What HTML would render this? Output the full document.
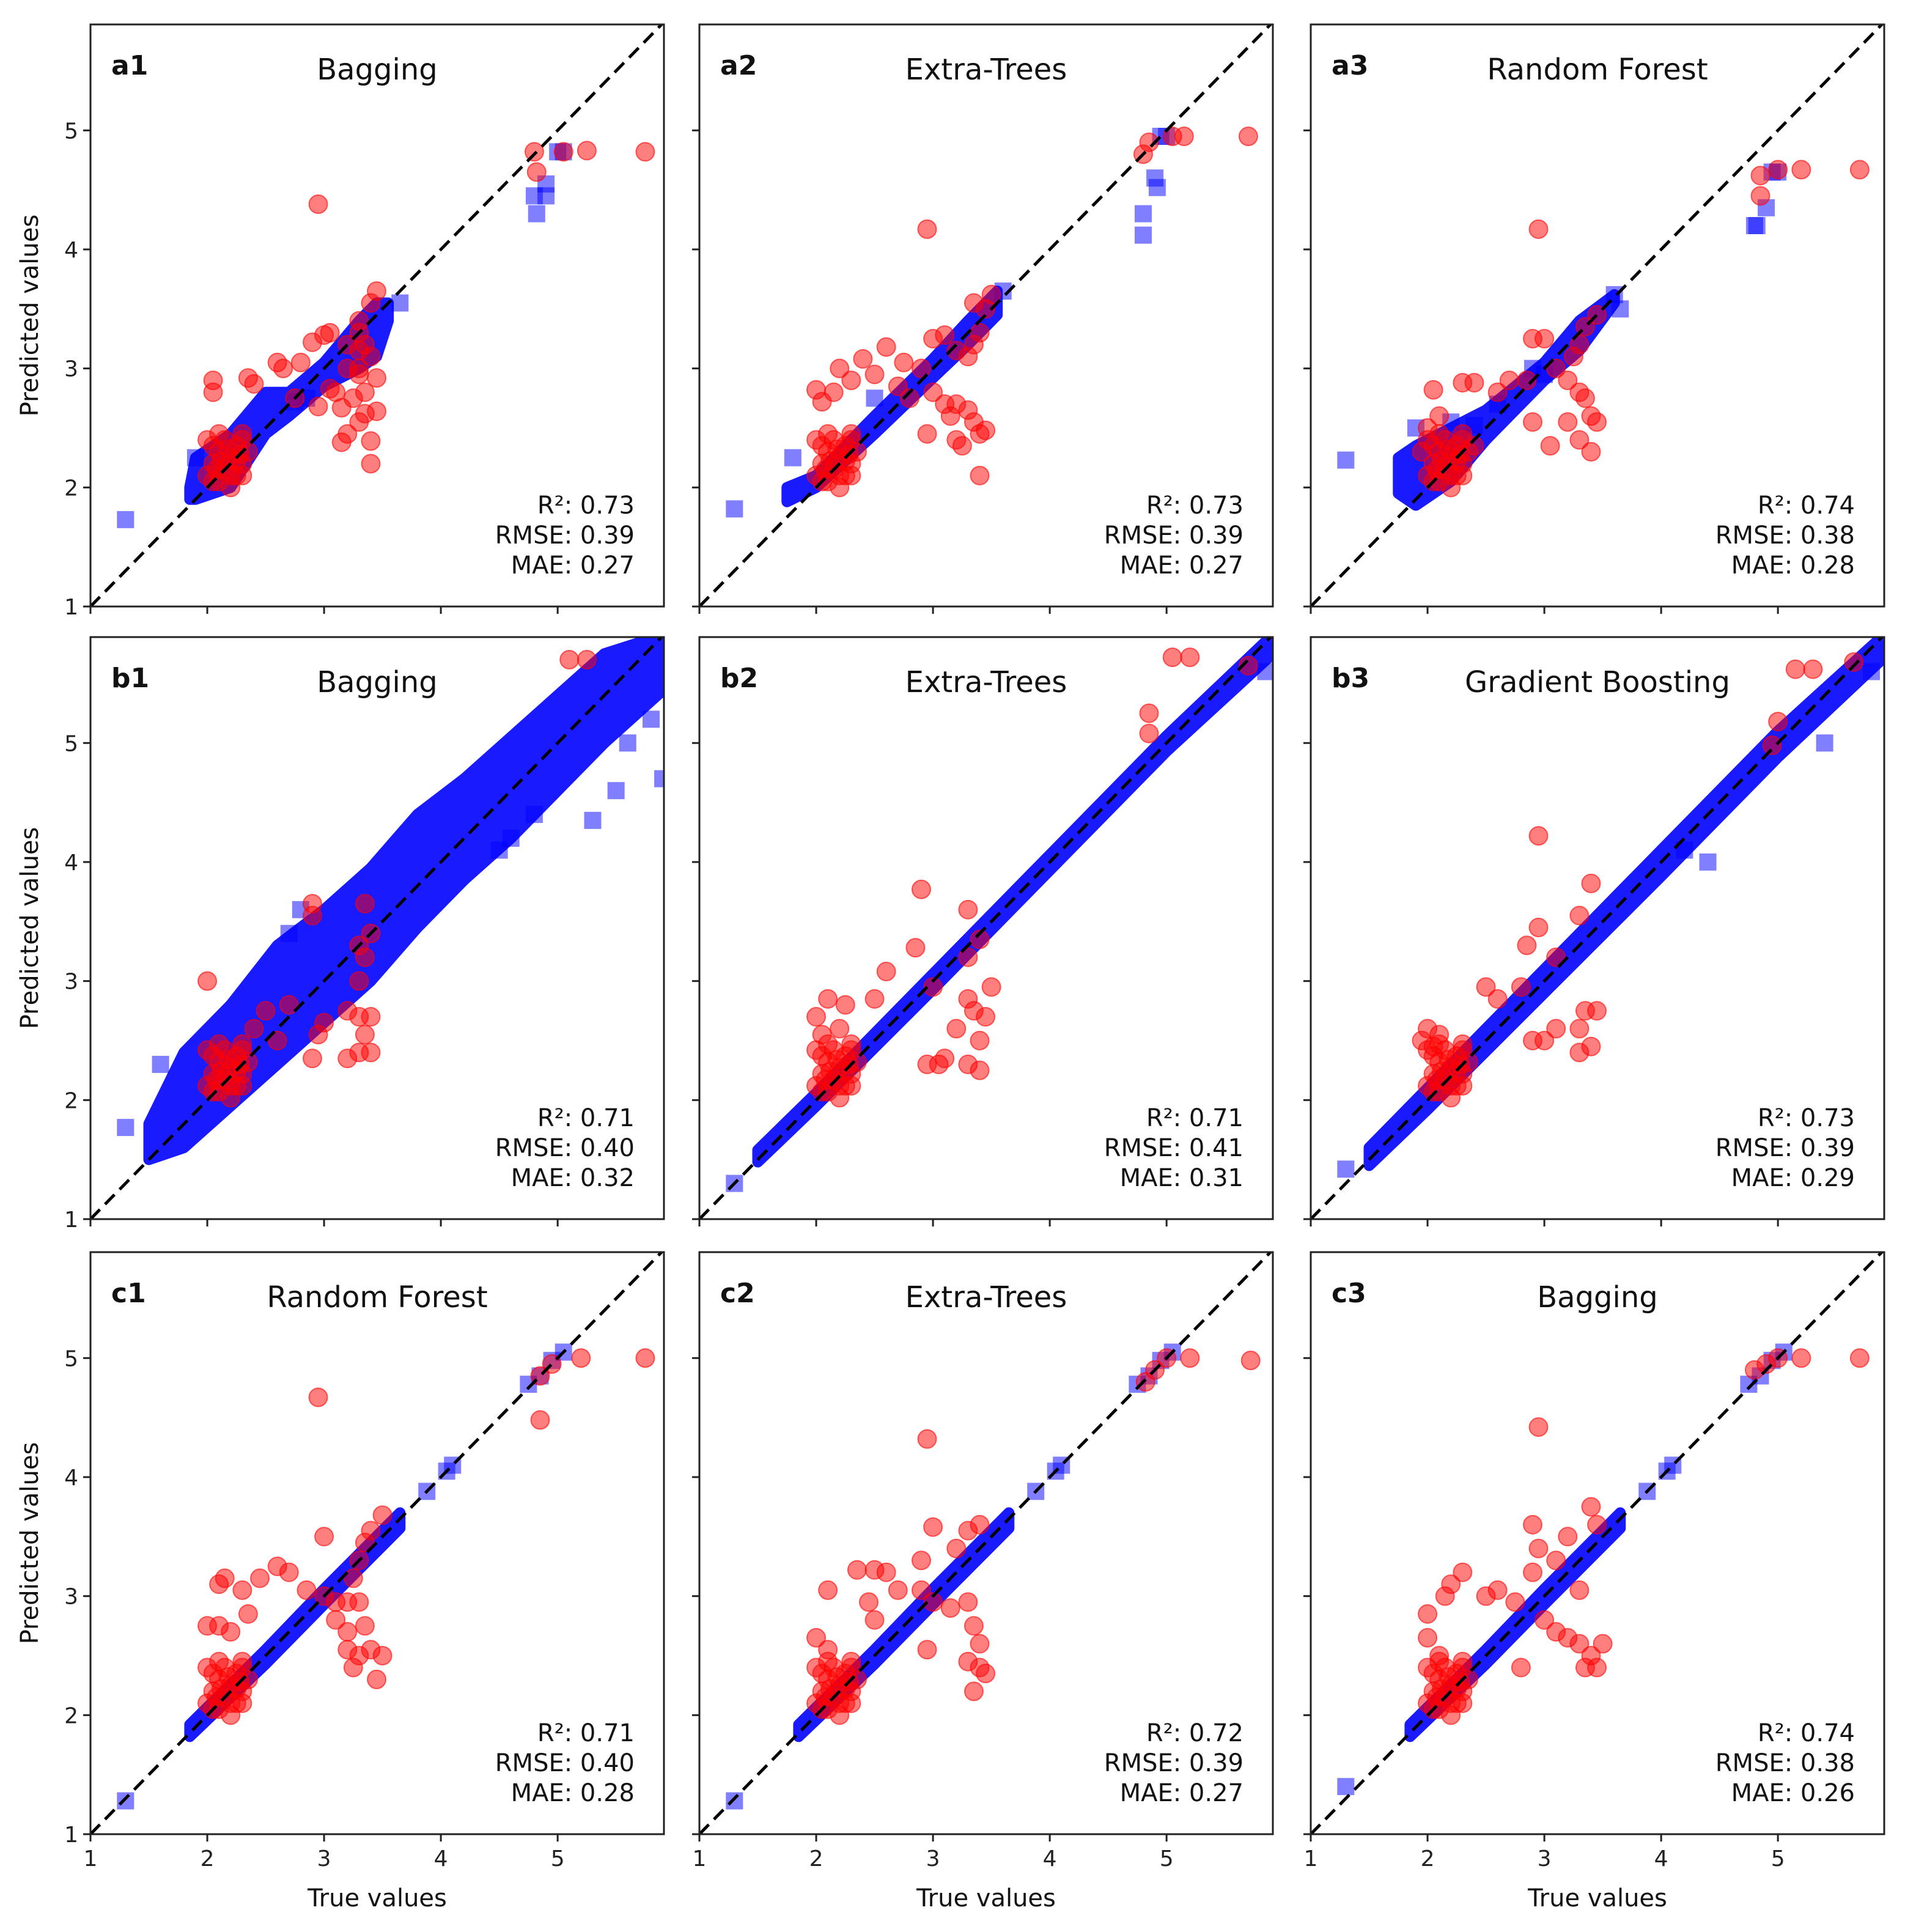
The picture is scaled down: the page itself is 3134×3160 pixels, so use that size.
<!DOCTYPE html>
<html><head><meta charset="utf-8"><style>
html,body{margin:0;padding:0;background:#fff}
svg{display:block;font-family:"DejaVu Sans","Liberation Sans",sans-serif}
</style></head><body>
<svg id="fig" width="3134" height="3160" viewBox="0 0 3134 3160" xmlns="http://www.w3.org/2000/svg"></svg>
<script>
// ---- data ----
const ticks=[1,2,3,4,5];
const redCluster=[[2.0,2.1],[2.05,2.2],[2.1,2.3],[2.15,2.15],[2.2,2.25],[2.25,2.35],[2.3,2.4],[2.1,2.05],[2.2,2.1],[2.3,2.2],[2.0,2.4],[2.05,2.35],[2.3,2.45],[2.25,2.1],[2.15,2.4],[2.35,2.3],[2.3,2.1],[2.1,2.45],[2.2,2.0],[2.05,2.05],[2.12,2.22],[2.18,2.32],[2.25,2.22],[2.08,2.15],[2.28,2.28]];
const panelTitles=["Bagging","Extra-Trees","Random Forest","Bagging","Extra-Trees","Gradient Boosting","Random Forest","Extra-Trees","Bagging"];
const panelLabels=["a1","a2","a3","b1","b2","b3","c1","c2","c3"];
const statR2=["0.73","0.73","0.74","0.71","0.71","0.73","0.71","0.72","0.74"];
const statRMSE=["0.39","0.39","0.38","0.40","0.41","0.39","0.40","0.39","0.38"];
const statMAE=["0.27","0.27","0.28","0.32","0.31","0.29","0.28","0.27","0.26"];
const bandX=[
[1.85,1.9,2.2,2.5,2.7,3.0,3.3,3.45,3.55],
[1.75,2.0,2.5,3.0,3.3,3.55],
[1.75,1.9,2.2,2.5,3.0,3.3,3.6],
[1.5,1.8,2.2,2.6,3.0,3.4,3.8,4.2,4.6,5.0,5.4,5.91],
[1.5,2.0,3.0,4.0,5.0,5.91],
[1.5,2.0,3.0,4.0,5.0,5.91],
[1.85,2.5,3.0,3.65],
[1.85,2.5,3.0,3.65],
[1.85,2.5,3.0,3.65]];
const bandLo=[
[1.9,1.9,2.0,2.45,2.6,2.85,3.0,3.1,3.4],
[1.88,2.0,2.45,2.92,3.2,3.45],
[1.95,1.85,2.05,2.4,2.9,3.15,3.55],
[1.5,1.6,1.95,2.3,2.65,3.0,3.45,3.85,4.2,4.6,5.0,5.45],
[1.48,1.95,2.93,3.93,4.93,5.75],
[1.45,1.92,2.9,3.88,4.88,5.72],
[1.82,2.43,2.93,3.57],
[1.82,2.43,2.93,3.57],
[1.82,2.43,2.93,3.57]];
const bandHi=[
[2.0,2.25,2.45,2.8,2.8,3.05,3.4,3.55,3.55],
[2.0,2.1,2.6,3.08,3.4,3.65],
[2.25,2.35,2.5,2.65,3.05,3.4,3.62],
[1.8,2.4,2.8,3.3,3.6,3.95,4.4,4.7,5.05,5.4,5.75,5.91],
[1.58,2.06,3.06,4.06,5.06,5.91],
[1.6,2.1,3.1,4.1,5.1,5.91],
[1.92,2.55,3.06,3.7],
[1.92,2.55,3.06,3.7],
[1.92,2.55,3.06,3.7]];
const blueOut=[
[[1.3,1.73],[1.9,2.25],[3.65,3.55],[4.8,4.45],[4.82,4.3],[4.9,4.55],[4.9,4.45],[5.0,4.82],[5.05,4.82],[2.85,2.75],[2.75,2.72]],
[[1.3,1.82],[1.8,2.25],[2.5,2.75],[3.6,3.65],[4.8,4.3],[4.8,4.12],[4.9,4.6],[4.92,4.52],[4.95,4.95],[5.0,4.95]],
[[1.3,2.23],[1.9,2.5],[2.2,2.55],[2.4,2.52],[2.6,2.7],[2.9,3.0],[3.0,2.95],[3.6,3.62],[3.65,3.5],[4.8,4.2],[4.82,4.2],[4.9,4.35],[4.95,4.65],[5.0,4.65]],
[[1.3,1.77],[1.6,2.3],[2.7,3.4],[2.8,3.6],[4.5,4.1],[4.6,4.2],[4.8,4.4],[5.3,4.35],[5.5,4.6],[5.6,5.0],[5.8,5.2],[5.9,4.7]],
[[1.3,1.3],[5.85,5.6]],
[[1.3,1.42],[4.4,4.0],[5.4,5.0],[5.8,5.6],[4.2,4.1]],
[[1.3,1.28],[3.88,3.88],[4.05,4.05],[4.1,4.1],[4.75,4.78],[4.85,4.85],[4.95,4.98],[5.05,5.05]],
[[1.3,1.28],[3.88,3.88],[4.05,4.05],[4.1,4.1],[4.75,4.78],[4.85,4.85],[4.95,4.98],[5.05,5.05]],
[[1.3,1.4],[3.88,3.88],[4.05,4.05],[4.1,4.1],[4.75,4.78],[4.85,4.85],[4.95,4.98],[5.05,5.05]]];
const redPts=[
[[2.95,4.38],[4.8,4.82],[4.82,4.65],[5.05,4.82],[5.25,4.83],[5.75,4.82],[2.05,2.9],[2.05,2.8],[2.35,2.92],[2.4,2.87],[2.6,3.05],[2.65,3.0],[2.8,3.05],[2.75,2.75],[3.0,3.28],[3.05,3.3],[2.9,3.22],[3.45,3.65],[3.4,3.55],[3.3,3.3],[3.35,3.2],[3.4,3.1],[3.3,3.0],[3.2,3.0],[3.3,2.95],[3.45,2.92],[3.05,2.83],[3.1,2.8],[3.15,2.67],[3.25,2.75],[3.35,2.8],[3.45,2.64],[3.35,2.62],[3.3,2.55],[3.2,2.45],[3.15,2.38],[3.4,2.39],[3.4,2.2],[2.95,2.68],[3.2,3.2],[3.3,3.4],[3.3,3.15]],
[[2.95,4.17],[4.8,4.8],[4.85,4.9],[5.05,4.95],[5.15,4.95],[5.7,4.95],[2.0,2.82],[2.05,2.72],[2.15,2.8],[2.2,3.0],[2.3,2.9],[2.4,3.08],[2.6,3.18],[2.75,3.05],[2.5,2.95],[2.7,2.85],[2.8,2.75],[2.9,3.0],[3.0,3.25],[3.1,3.28],[3.0,2.8],[2.95,2.45],[3.1,2.7],[3.15,2.6],[3.2,2.7],[3.3,2.65],[3.35,2.55],[3.4,2.45],[3.45,2.48],[3.2,2.4],[3.25,2.35],[3.4,2.1],[3.3,3.1],[3.35,3.2],[3.4,3.3],[3.45,3.5],[3.35,3.55],[3.2,3.15],[3.5,3.62]],
[[2.95,4.17],[4.85,4.62],[4.85,4.45],[5.0,4.67],[5.2,4.67],[5.7,4.67],[2.05,2.82],[2.1,2.6],[2.3,2.88],[2.4,2.88],[2.6,2.8],[2.7,2.9],[2.85,2.9],[2.9,3.25],[3.0,3.25],[3.1,3.0],[3.2,2.9],[3.3,2.8],[3.35,2.75],[3.4,2.6],[3.2,2.55],[3.3,2.4],[3.4,2.3],[3.45,2.55],[3.05,2.35],[2.9,2.55],[3.3,3.2],[3.35,3.35],[3.45,3.45],[3.25,3.1],[1.95,2.3],[2.0,2.5],[2.4,2.35]],
[[5.1,5.7],[5.25,5.7],[2.0,3.0],[2.9,3.65],[2.9,3.55],[3.35,3.65],[3.4,3.4],[3.3,3.0],[3.2,2.75],[3.3,2.7],[3.4,2.7],[3.35,2.55],[3.3,2.4],[3.2,2.35],[3.4,2.4],[2.9,2.35],[2.95,2.55],[2.7,2.8],[2.5,2.75],[2.4,2.6],[2.6,2.5],[3.0,2.65],[3.35,3.2],[3.3,3.3]],
[[5.05,5.72],[5.2,5.72],[4.85,5.25],[4.85,5.08],[5.7,5.65],[2.9,3.77],[2.85,3.28],[2.6,3.08],[3.3,3.6],[3.4,3.35],[3.3,3.2],[2.0,2.7],[2.1,2.85],[2.25,2.8],[2.5,2.85],[3.0,2.95],[2.95,2.3],[3.05,2.3],[3.1,2.35],[3.2,2.6],[3.3,2.3],[3.4,2.25],[3.4,2.5],[3.3,2.85],[3.45,2.7],[3.5,2.95],[3.35,2.75],[2.05,2.55],[2.2,2.6]],
[[5.15,5.62],[5.3,5.62],[5.0,5.18],[4.95,4.98],[5.65,5.68],[2.95,4.22],[2.95,3.45],[3.4,3.82],[3.3,3.55],[2.85,3.3],[2.8,2.95],[2.5,2.95],[2.6,2.85],[3.1,2.6],[3.0,2.5],[2.9,2.5],[3.3,2.4],[3.4,2.45],[3.35,2.75],[3.45,2.75],[3.3,2.6],[3.1,3.2],[2.0,2.6],[2.1,2.55],[1.95,2.5],[2.05,2.45]],
[[2.95,4.67],[4.85,4.48],[4.85,4.85],[4.95,4.95],[5.2,5.0],[5.75,5.0],[3.0,3.5],[2.1,3.1],[2.15,3.15],[2.3,3.05],[2.45,3.15],[2.6,3.25],[2.7,3.2],[2.0,2.75],[2.1,2.75],[2.2,2.7],[2.35,2.85],[2.85,3.05],[3.0,3.0],[3.1,2.95],[3.2,2.95],[3.3,2.95],[3.35,2.75],[3.2,2.7],[3.4,2.55],[3.3,2.5],[3.2,2.55],[3.5,2.5],[3.25,2.4],[3.45,2.3],[3.1,2.8],[3.3,3.3],[3.35,3.45],[3.4,3.55],[3.5,3.68],[3.25,3.15]],
[[2.95,4.32],[4.82,4.8],[4.9,4.9],[5.0,5.0],[5.2,5.0],[5.72,4.98],[3.0,3.58],[2.9,3.3],[2.9,3.05],[2.35,3.22],[2.5,3.22],[2.6,3.2],[2.45,2.95],[2.1,3.05],[2.0,2.65],[2.1,2.55],[2.5,2.8],[2.7,3.05],[3.0,2.95],[3.15,2.9],[3.3,2.95],[3.35,2.75],[3.4,2.6],[3.3,2.45],[3.4,2.4],[3.45,2.35],[3.35,2.2],[2.95,2.55],[3.3,3.55],[3.4,3.6],[3.2,3.4]],
[[2.95,4.42],[4.8,4.9],[4.9,4.95],[5.0,5.0],[5.2,5.0],[5.7,5.0],[2.9,3.6],[2.95,3.4],[2.3,3.2],[2.2,3.1],[2.15,3.0],[2.0,2.85],[2.0,2.65],[2.1,2.5],[2.5,3.0],[2.6,3.05],[2.75,2.95],[2.8,2.4],[3.0,2.8],[3.1,2.7],[3.2,2.65],[3.3,2.6],[3.4,2.5],[3.35,2.4],[3.45,2.4],[3.5,2.6],[3.1,3.3],[3.2,3.5],[3.4,3.75],[3.45,3.6],[3.3,3.05],[2.9,3.2]]];

// ---- layout ----
const NS="http://www.w3.org/2000/svg";
const svg=document.getElementById('fig');
const colL=[148,1144,2144], rowT=[40,1042,2048], W=938, H=952;
const X0=1,X1=5.91,Y0=1,Y1=5.89;
function mk(tag,attrs,parent){const e=document.createElementNS(NS,tag);for(const k in attrs)e.setAttribute(k,attrs[k]);(parent||svg).appendChild(e);return e;}
for(let p=0;p<9;p++){
  const r=Math.floor(p/3),c=p%3,L=colL[c],T=rowT[r];
  const sx=v=>L+(v-X0)/(X1-X0)*W, sy=v=>T+H-(v-Y0)/(Y1-Y0)*H;
  const g=mk('g',{});
  
  
  const cid='clip'+p;
  const cp=mk('clipPath',{id:cid},g);mk('rect',{x:L,y:T,width:W,height:H},cp);
  const plot=mk('g',{'clip-path':'url(#'+cid+')'},g);
  let pts=[];
  for(let i=0;i<bandX[p].length;i++)pts.push(sx(bandX[p][i])+','+sy(bandHi[p][i]));
  for(let i=bandX[p].length-1;i>=0;i--)pts.push(sx(bandX[p][i])+','+sy(bandLo[p][i]));
  const band=mk('polygon',{points:pts.join(' '),fill:'#1a1aff',stroke:'#1a1aff','stroke-width':18,'stroke-linejoin':'round'},plot);
  
  
  blueOut[p].forEach(d=>{
    const s=mk('rect',{x:sx(d[0])-14,y:sy(d[1])-14,width:28,height:28,fill:'#0000ff','fill-opacity':0.5},plot);
    
    
  });
  const cl=(p===3||p===4||p===5)?redCluster.map(d=>[d[0],d[1]+0.02]):redCluster;
  redPts[p].concat(cl).forEach(d=>{
    const ci=mk('circle',{cx:sx(d[0]),cy:sy(d[1]),r:15,fill:'#ff0000','fill-opacity':0.5,stroke:'#ff0000','stroke-opacity':0.6,'stroke-width':2},plot);
    
    
  });
  const diag=mk('line',{x1:sx(1),y1:sy(1),x2:sx(6),y2:sy(6),stroke:'#000','stroke-width':5,'stroke-dasharray':'22,12'},plot);
  
  
  const fr=mk('rect',{x:L,y:T,width:W,height:H,fill:'none',stroke:'#222','stroke-width':3},g);
  
  
  ticks.forEach(t=>{
    mk('line',{x1:sx(t),y1:T+H,x2:sx(t),y2:T+H+12,stroke:'#222','stroke-width':3},g);
    mk('line',{x1:L,y1:sy(t),x2:L-12,y2:sy(t),stroke:'#222','stroke-width':3},g);
    if(c===0){const tl=mk('text',{x:L-20,y:sy(t)+13,'font-size':36,'text-anchor':'end',fill:'#222'},g);tl.textContent=t;
      }
    if(r===2){const tl=mk('text',{x:sx(t),y:T+H+52,'font-size':36,'text-anchor':'middle',fill:'#222'},g);tl.textContent=t;
      }
  });
  const lb=mk('text',{x:L+34,y:T+82,'font-size':44,'font-weight':'bold',fill:'#111'},g);lb.textContent=panelLabels[p];
  
  const tt=mk('text',{x:L+W/2,y:T+90,'font-size':48,'text-anchor':'middle',fill:'#111'},g);tt.textContent=panelTitles[p];
  
  [['R²: ',statR2],['RMSE: ',statRMSE],['MAE: ',statMAE]].forEach((s,i)=>{
    const st=mk('text',{x:L+W-48,y:T+800+i*49,'font-size':40,'text-anchor':'end',fill:'#111'},g);st.textContent=s[0]+s[1][p];
    
  });
  if(c===0){const yl=mk('text',{x:0,y:0,'font-size':40,'text-anchor':'middle',fill:'#111',transform:'translate(62,'+(T+H/2)+') rotate(-90)'},g);yl.textContent='Predicted values';
    }
  if(r===2){const xl=mk('text',{x:L+W/2,y:3118,'font-size':40,'text-anchor':'middle',fill:'#111'},g);xl.textContent='True values';
    }
}
</script>
</body></html>
